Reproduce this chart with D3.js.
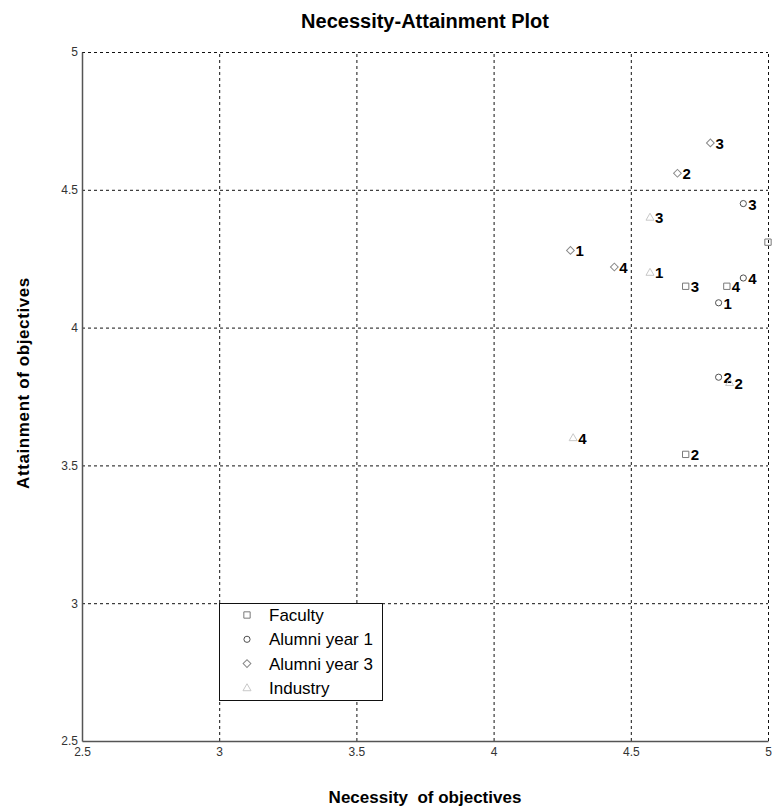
<!DOCTYPE html>
<html>
<head>
<meta charset="utf-8">
<script src="https://cdn.jsdelivr.net/npm/d3@7"></script>
<style>
body{margin:0;background:#fff;}
svg{display:block;font-family:"Liberation Sans",Arial,sans-serif;}
</style>
</head>
<body>
<svg id="chart" width="773" height="809"></svg>
<script>
// ---- data ----
const objectives = ["1","2","3","4"];
const facultyX  = [5.00, 4.70, 4.70, 4.85];
const facultyY  = [4.31, 3.54, 4.15, 4.15];
const alumni1X  = [4.82, 4.82, 4.91, 4.91];
const alumni1Y  = [4.09, 3.82, 4.45, 4.18];
const alumni3X  = [4.28, 4.67, 4.79, 4.44];
const alumni3Y  = [4.28, 4.56, 4.67, 4.22];
const industryX = [4.57, 4.86, 4.57, 4.29];
const industryY = [4.20, 3.80, 4.40, 3.60];
const seriesNames = ["Faculty","Alumni year 1","Alumni year 3","Industry"];
const tickValues = [2.5, 3, 3.5, 4, 4.5, 5];
const tickLabels = ["2.5","3","3.5","4","4.5","5"];

const series = [
  {name: seriesNames[0], xs: facultyX,  ys: facultyY,  sym: "square",   color: "#7a7a7a"},
  {name: seriesNames[1], xs: alumni1X,  ys: alumni1Y,  sym: "circle",   color: "#505050"},
  {name: seriesNames[2], xs: alumni3X,  ys: alumni3Y,  sym: "diamond",  color: "#8a8a8a"},
  {name: seriesNames[3], xs: industryX, ys: industryY, sym: "triangle", color: "#c8c8c8"}
];

const svg = d3.select("#chart");
const x = d3.scaleLinear().domain([2.5, 5]).range([82, 768]);
const y = d3.scaleLinear().domain([2.5, 5]).range([741, 52]);

// grid lines
const gridVals = tickValues.slice(1);
const gx = svg.append("g").attr("transform", `translate(0,${y(2.5)})`)
  .call(d3.axisBottom(x).tickValues(gridVals).tickSize(-(y(2.5) - y(5))).tickFormat(""));
gx.select(".domain").remove();
gx.selectAll(".tick line").attr("stroke", "#111").attr("stroke-dasharray", "3,3").attr("stroke-width", 1);
const gy = svg.append("g").attr("transform", `translate(${x(2.5)},0)`)
  .call(d3.axisLeft(y).tickValues(gridVals).tickSize(-(x(5) - x(2.5))).tickFormat(""));
gy.select(".domain").remove();
gy.selectAll(".tick line").attr("stroke", "#111").attr("stroke-dasharray", "3,3").attr("stroke-width", 1);

// axes with labels
const ax = svg.append("g").attr("transform", `translate(0,${y(2.5)})`)
  .call(d3.axisBottom(x).tickValues(tickValues).tickSize(0).tickPadding(6)
    .tickFormat((d, i) => tickLabels[i]));
ax.select(".domain").attr("stroke", "#555").attr("stroke-width", 1.5);
ax.selectAll("text").attr("font-size", 12).attr("fill", "#333").attr("font-family", "Liberation Sans, Arial, sans-serif");
const ay = svg.append("g").attr("transform", `translate(${x(2.5)},0)`)
  .call(d3.axisLeft(y).tickValues(tickValues).tickSize(0).tickPadding(4)
    .tickFormat((d, i) => tickLabels[i]));
ay.select(".domain").attr("stroke", "#555").attr("stroke-width", 1.5);
ay.selectAll("text").attr("font-size", 12).attr("fill", "#333").attr("font-family", "Liberation Sans, Arial, sans-serif");

// symbols
function symPath(sym) {
  if (sym === "square") return d3.symbol(d3.symbolSquare, 40)();
  if (sym === "circle") return d3.symbol(d3.symbolCircle, 30)();
  if (sym === "diamond") return d3.symbol(d3.symbolSquare, 30)();
  return d3.symbol(d3.symbolTriangle, 28)();
}
function symTransform(sym, cx, cy) {
  if (sym === "diamond") return `translate(${cx},${cy}) rotate(45)`;
  if (sym === "triangle") return `translate(${cx},${cy + 0.5})`;
  return `translate(${cx},${cy})`;
}

series.forEach(s => {
  const pts = s.xs.map((v, i) => ({x: v, y: s.ys[i], label: objectives[i]}));
  const g = svg.append("g");
  g.selectAll("path").data(pts).join("path")
    .attr("d", symPath(s.sym))
    .attr("transform", d => symTransform(s.sym, x(d.x), y(d.y)))
    .attr("fill", "none").attr("stroke", s.color).attr("stroke-width", 1);
  // labels of points sitting on the right border fall outside the figure (not shown in reference)
  g.selectAll("text").data(pts.filter(d => d.x < 5)).join("text")
    .attr("x", d => x(d.x) + 5)
    .attr("y", d => y(d.y) + 6)
    .attr("font-size", 15).attr("font-weight", "bold").attr("fill", "#000")
    .text(d => d.label);
});

// legend
const lg = svg.append("g");
lg.append("rect").attr("x", 219.5).attr("y", 603.5).attr("width", 163).attr("height", 97)
  .attr("fill", "#fff").attr("stroke", "#111").attr("stroke-width", 1);
series.forEach((s, i) => {
  const cy = 615 + i * 24.3;
  lg.append("path").attr("d", symPath(s.sym))
    .attr("transform", symTransform(s.sym, 247, cy))
    .attr("fill", "none").attr("stroke", s.color).attr("stroke-width", 1);
  lg.append("text").attr("x", 269).attr("y", cy + 6)
    .attr("font-size", 17).attr("fill", "#000").text(s.name);
});

// titles
svg.append("text").attr("x", 425).attr("y", 28).attr("text-anchor", "middle")
  .attr("font-size", 20).attr("font-weight", "bold").text("Necessity-Attainment Plot");
svg.append("text").attr("x", 425).attr("y", 803).attr("text-anchor", "middle")
  .attr("font-size", 17).attr("font-weight", "bold").attr("xml:space", "preserve")
  .style("white-space", "pre").text("Necessity  of objectives");
svg.append("text").attr("transform", "translate(29,383) rotate(-90)").attr("text-anchor", "middle")
  .attr("font-size", 17).attr("font-weight", "bold").attr("letter-spacing", "0.6")
  .text("Attainment of objectives");
</script>
</body>
</html>
